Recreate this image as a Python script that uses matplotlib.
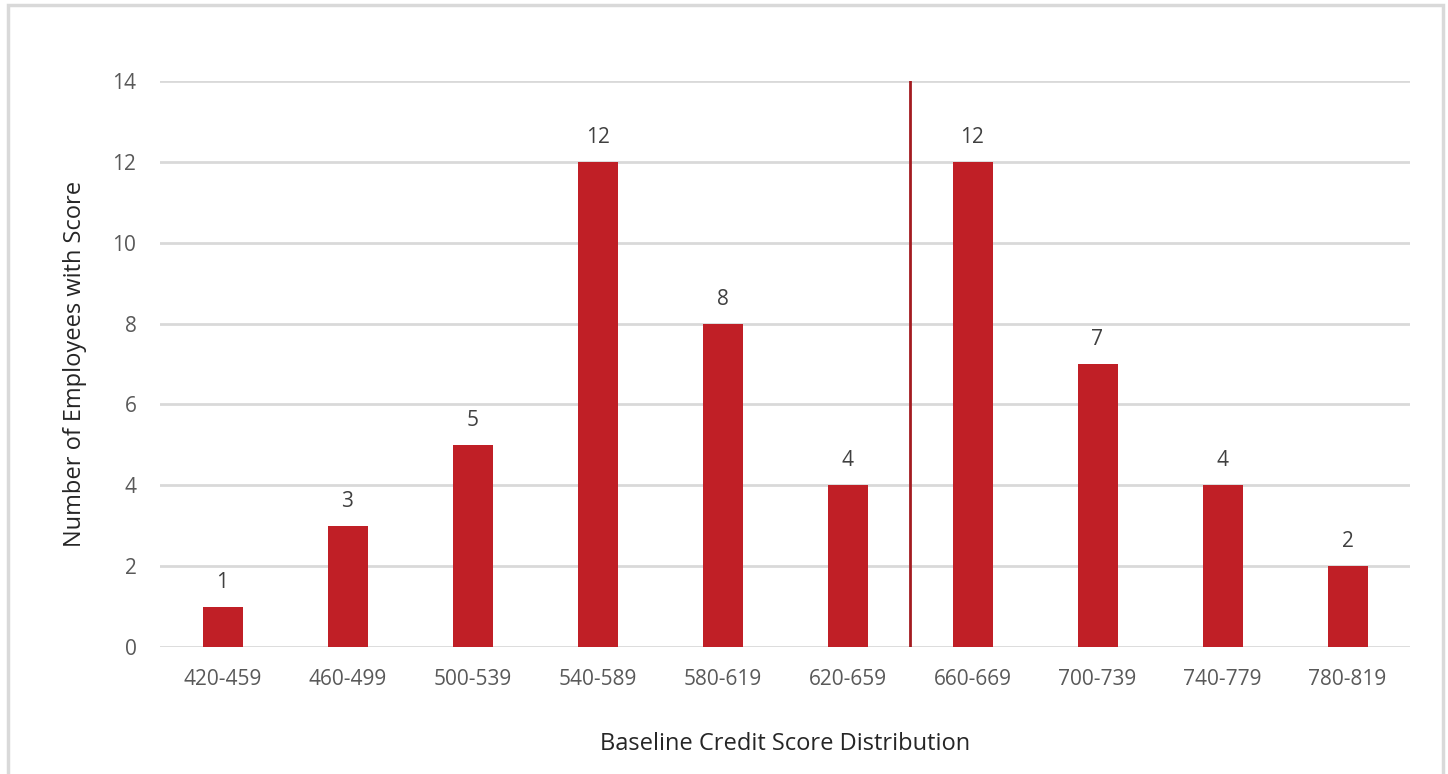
import matplotlib
matplotlib.use("Agg")
import matplotlib.pyplot as plt
from matplotlib.patches import Rectangle

# data
score_bands = ["420-459", "460-499", "500-539", "540-589", "580-619",
               "620-659", "660-669", "700-739", "740-779", "780-819"]
employee_counts = [1, 3, 5, 12, 8, 4, 12, 7, 4, 2]
cutoff_position = 5.5  # divider between 620-659 and 660-669

bar_color = "#C01F26"
line_color = "#A31B20"
text_color = "#595959"
grid_color = "#D9D9D9"

plt.rcParams["font.family"] = ["Open Sans", "DejaVu Sans"]

fig = plt.figure(figsize=(14.48, 7.74), dpi=100)
ax = fig.add_axes([160 / 1448, 1 - 647 / 774, 1250 / 1448, (647 - 81) / 774])

x = list(range(len(score_bands)))
ax.bar(x, employee_counts, width=0.32, color=bar_color, zorder=3)

for xi, val in zip(x, employee_counts):
    ax.annotate(str(val), (xi, val), xytext=(0, 10), textcoords="offset points",
                ha="center", va="bottom", fontsize=15, color="#404040")

ax.axvline(cutoff_position, color=line_color, linewidth=2, zorder=4)

ax.set_xlim(-0.5, len(score_bands) - 0.5)
ax.set_ylim(0, 14)
ax.set_yticks(range(0, 15, 2))
ax.set_xticks(x)
ax.set_xticklabels(score_bands)
ax.tick_params(axis="both", length=0, labelsize=15, labelcolor=text_color)
ax.tick_params(axis="x", pad=16)
ax.tick_params(axis="y", pad=17)

ax.grid(axis="y", color=grid_color, linewidth=2, zorder=0)
for side in ["top", "right", "left", "bottom"]:
    ax.spines[side].set_visible(False)

ax.set_xlabel("Baseline Credit Score Distribution", fontsize=17,
              color="#262626", labelpad=30)
ax.set_ylabel("Number of Employees with Score", fontsize=17,
              color="#262626", labelpad=18)

# light grey frame around the chart area
fig.patches.append(Rectangle((8 / 1448, -0.05), 1435 / 1448, 1.05 - 5 / 774,
                             transform=fig.transFigure, fill=False,
                             edgecolor="#D9D9D9", linewidth=2.5))

fig.savefig("out.png", dpi=100)
